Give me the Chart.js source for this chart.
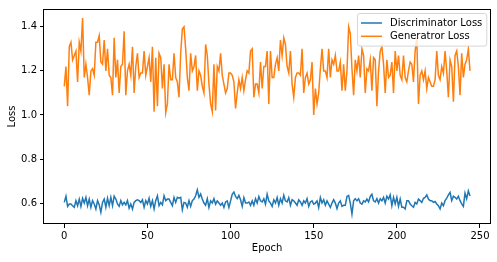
<!DOCTYPE html>
<html>
<head>
<meta charset="utf-8">
<title>GAN training loss</title>
<script src="https://cdn.jsdelivr.net/npm/chart.js@4.4.1/dist/chart.umd.min.js"></script>
<style>
  html, body { margin: 0; padding: 0; background: #fff; }
  canvas { display: block; }
</style>
</head>
<body>
<canvas id="lossChart" width="497" height="262"></canvas>
<script>
// ---------- Data ----------
const discLoss = [
  0.603, 0.631, 0.585, 0.596, 0.596, 0.588, 0.581, 0.611, 0.588, 0.618,
  0.585, 0.622, 0.600, 0.626, 0.588, 0.618, 0.581, 0.611, 0.596, 0.573,
  0.611, 0.592, 0.558, 0.603, 0.618, 0.581, 0.622, 0.588, 0.626, 0.588,
  0.631, 0.618, 0.596, 0.585, 0.611, 0.592, 0.603, 0.592, 0.611, 0.577,
  0.596, 0.573, 0.603, 0.611, 0.615, 0.611, 0.603, 0.615, 0.581, 0.611,
  0.596, 0.622, 0.585, 0.611, 0.573, 0.611, 0.633, 0.588, 0.603, 0.592,
  0.633, 0.611, 0.618, 0.618, 0.603, 0.588, 0.626, 0.603, 0.626, 0.622,
  0.626, 0.570, 0.603, 0.600, 0.581, 0.611, 0.585, 0.611, 0.618, 0.633,
  0.660, 0.626, 0.641, 0.618, 0.600, 0.590, 0.620, 0.580, 0.610, 0.600,
  0.620, 0.595, 0.610, 0.600, 0.590, 0.600, 0.580, 0.605, 0.610, 0.580,
  0.610, 0.640, 0.650, 0.630, 0.620, 0.635, 0.615, 0.585, 0.625, 0.600,
  0.600, 0.605, 0.590, 0.610, 0.590, 0.620, 0.600, 0.630, 0.610, 0.605,
  0.620, 0.595, 0.640, 0.610, 0.600, 0.585, 0.615, 0.600, 0.625, 0.590,
  0.620, 0.600, 0.635, 0.610, 0.605, 0.625, 0.590, 0.615, 0.610, 0.600,
  0.590, 0.615, 0.605, 0.590, 0.610, 0.600, 0.620, 0.585, 0.605, 0.610,
  0.595, 0.600, 0.610, 0.580, 0.625, 0.600, 0.615, 0.590, 0.610, 0.595,
  0.580, 0.600, 0.615, 0.600, 0.575, 0.600, 0.610, 0.585, 0.590, 0.590,
  0.630, 0.635, 0.600, 0.550, 0.610, 0.620, 0.610, 0.620, 0.600, 0.595,
  0.610, 0.605, 0.618, 0.605, 0.630, 0.640, 0.610, 0.605, 0.620, 0.600,
  0.620, 0.610, 0.626, 0.600, 0.631, 0.618, 0.637, 0.588, 0.626, 0.596,
  0.626, 0.585, 0.618, 0.581, 0.581, 0.573, 0.611, 0.611, 0.596, 0.588,
  0.581, 0.603, 0.596, 0.618, 0.611, 0.603, 0.622, 0.626, 0.637, 0.618,
  0.611, 0.611, 0.603, 0.607, 0.596, 0.588, 0.573, 0.600, 0.588, 0.611,
  0.622, 0.637, 0.648, 0.611, 0.631, 0.626, 0.618, 0.631, 0.611, 0.596,
  0.585, 0.645, 0.620, 0.655, 0.632
];

const genLoss = [
  1.13, 1.22, 1.04, 1.31, 1.33, 1.25, 1.27, 1.29, 1.15, 1.33,
  1.29, 1.44, 1.17, 1.23, 1.17, 1.09, 1.20, 1.21, 1.18, 1.33,
  1.33, 1.36, 1.24, 1.23, 1.34, 1.20, 1.30, 1.18, 1.17, 1.09,
  1.35, 1.17, 1.25, 1.10, 1.22, 1.23, 1.38, 1.09, 1.20, 1.23,
  1.18, 1.31, 1.10, 1.22, 1.28, 1.17, 1.19, 1.19, 1.29, 1.18,
  1.22, 1.26, 1.15, 1.31, 1.015, 1.26, 1.04, 1.28, 1.26, 1.12,
  1.23, 1.01, 1.05, 1.23, 1.16, 1.16, 1.28, 1.17, 1.15, 1.08,
  1.28, 1.39, 1.40, 1.30, 1.17, 1.11, 1.28, 1.20, 1.22, 1.27,
  1.11, 1.20, 1.18, 1.13, 1.10, 1.32, 1.27, 1.14, 1.05, 1.015,
  1.23, 1.02, 1.22, 1.20, 1.28, 1.18, 1.14, 1.10, 1.12, 1.19,
  1.19, 1.18, 1.15, 1.03, 1.10, 1.16, 1.12, 1.17, 1.11, 1.16,
  1.20, 1.19, 1.29, 1.30, 1.08, 1.14, 1.14, 1.10, 1.24, 1.12,
  1.22, 1.22, 1.29, 1.05, 1.29, 1.17, 1.17, 1.23, 1.26, 1.20,
  1.34, 1.27, 1.35, 1.32, 1.22, 1.19, 1.29, 1.14, 1.08, 1.17,
  1.19, 1.19, 1.18, 1.30, 1.10, 1.17, 1.19, 1.14, 1.16, 1.24,
  1.00, 1.12, 1.05, 1.10, 1.21, 1.30, 1.20, 1.20, 1.17, 1.30,
  1.17, 1.25, 1.23, 1.27, 1.20, 1.20, 1.24, 1.11, 1.23, 1.11,
  1.20, 1.40, 1.37, 1.21, 1.09, 1.25, 1.20, 1.27, 1.17, 1.30,
  1.27, 1.10, 1.21, 1.20, 1.25, 1.11, 1.26, 1.25, 1.04, 1.20,
  1.29, 1.31, 1.23, 1.10, 1.25, 1.17, 1.18, 1.24, 1.10, 1.29,
  1.20, 1.27, 1.18, 1.16, 1.27, 1.17, 1.15, 1.20, 1.24, 1.23,
  1.15, 1.29, 1.35, 1.05, 1.18, 1.20, 1.16, 1.20, 1.12, 1.17,
  1.15, 1.13, 1.13, 1.16, 1.29, 1.18, 1.16, 1.22, 1.19, 1.29,
  1.20, 1.08, 1.25, 1.22, 1.06, 1.27, 1.29, 1.22, 1.09, 1.28,
  1.17, 1.23, 1.25, 1.30, 1.20
];

// one epoch per logged value
const epochs = discLoss.map((_, i) => i);

const xTicks = [0, 50, 100, 150, 200, 250];
const yTicks = [0.6, 0.8, 1.0, 1.2, 1.4];

// ---------- Style ----------
const BLUE = '#1f77b4';
const ORANGE = '#ff7f0e';
const FONT = { family: 'DejaVu Sans', size: 10 };
const INK = '#000';

Chart.defaults.font.family = 'DejaVu Sans';
Chart.defaults.color = INK;

const toPoints = (ys) => epochs.map((e, i) => ({ x: e, y: ys[i] }));

// matplotlib-style frame on all four sides
const framePlugin = {
  id: 'frame',
  afterDatasetsDraw(chart) {
    const { ctx, chartArea: a } = chart;
    ctx.save();
    ctx.strokeStyle = INK;
    ctx.lineWidth = 1;
    ctx.strokeRect(Math.round(a.left) - 0.5, Math.round(a.top) + 0.5,
      Math.round(a.right - a.left) + 1, Math.round(a.bottom - a.top) - 1);
    ctx.restore();
  },
};

// legend box in the upper right corner of the axes
const boxLegendPlugin = {
  id: 'boxLegend',
  afterDraw(chart) {
    const { ctx, chartArea: a } = chart;
    const sets = chart.data.datasets;
    ctx.save();
    ctx.font = `${FONT.size}px ${FONT.family}`;
    const textW = Math.max(...sets.map((d) => ctx.measureText(d.label).width));
    const pad = 4, handle = 21, gap = 8, rowH = 13.3;
    const w = pad + handle + gap + textW + pad;
    const h = pad + rowH * sets.length + 2;
    const x0 = a.right - 4 - w;
    const y0 = a.top + 4;

    ctx.beginPath();
    ctx.roundRect(x0 + 0.5, y0 + 0.5, w, h, 2.5);
    ctx.fillStyle = 'rgba(255,255,255,0.8)';
    ctx.fill();
    ctx.strokeStyle = '#d6d6d6';
    ctx.lineWidth = 1;
    ctx.stroke();

    sets.forEach((d, i) => {
      const cy = y0 + pad + 6 + i * rowH;
      ctx.beginPath();
      ctx.moveTo(x0 + pad, cy);
      ctx.lineTo(x0 + pad + handle, cy);
      ctx.strokeStyle = d.borderColor;
      ctx.lineWidth = 1.5;
      ctx.stroke();
      ctx.fillStyle = INK;
      ctx.textBaseline = 'middle';
      ctx.fillText(d.label, x0 + pad + handle + gap, cy + 0.5);
    });
    ctx.restore();
  },
};

function initLossChart() {
  const ctx = document.getElementById('lossChart').getContext('2d');
  return new Chart(ctx, {
    type: 'line',
    data: {
      datasets: [
        {
          label: 'Discriminator Loss',
          data: toPoints(discLoss),
          borderColor: BLUE,
          borderWidth: 1.5,
          pointRadius: 0,
          tension: 0,
        },
        {
          label: 'Generatror Loss',
          data: toPoints(genLoss),
          borderColor: ORANGE,
          borderWidth: 1.5,
          pointRadius: 0,
          tension: 0,
        },
      ],
    },
    options: {
      responsive: false,
      animation: false,
      devicePixelRatio: 1,
      layout: { padding: { top: 6, right: 6.7, left: 0, bottom: 0 } },
      plugins: {
        legend: { display: false },
        tooltip: { enabled: false },
      },
      scales: {
        x: {
          type: 'linear',
          min: -12.2,
          max: 256.2,
          afterBuildTicks: (s) => { s.ticks = xTicks.map((v) => ({ value: v })); },
          afterFit: (s) => { s.height = 38; },
          ticks: { font: FONT, color: INK, padding: 2, maxRotation: 0, autoSkip: false },
          grid: { drawOnChartArea: false, drawTicks: true, tickLength: 4, tickColor: INK },
          border: { display: false },
          title: { display: true, text: 'Epoch', font: FONT, color: INK, padding: { top: 0, bottom: 8 } },
        },
        y: {
          type: 'linear',
          min: 0.505,
          max: 1.481,
          afterBuildTicks: (s) => { s.ticks = yTicks.map((v) => ({ value: v })); },
          afterFit: (s) => { s.width = 44; },
          ticks: {
            font: FONT, color: INK, padding: 3,
            callback: (v) => v.toFixed(1),
          },
          grid: { drawOnChartArea: false, drawTicks: true, tickLength: 4, tickColor: INK },
          border: { display: false },
          title: { display: true, text: 'Loss', font: FONT, color: INK, padding: { top: 6, bottom: 0 } },
        },
      },
    },
    plugins: [framePlugin, boxLegendPlugin],
  });
}

document.addEventListener('DOMContentLoaded', initLossChart);
</script>
</body>
</html>
